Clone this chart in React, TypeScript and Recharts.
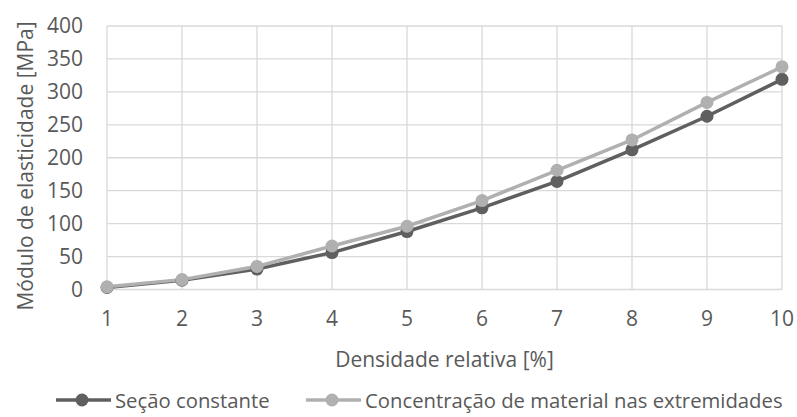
import { LineChart, Line, XAxis, YAxis, CartesianGrid, Legend } from "recharts";

const densidade = [1, 2, 3, 4, 5, 6, 7, 8, 9, 10];
const secaoConstante = [3, 14, 31, 56, 88, 124, 164, 212, 263, 319];
const concentracao = [4, 15, 35, 66, 96, 135, 181, 227, 284, 338];
const yTicks = [0, 50, 100, 150, 200, 250, 300, 350, 400];

const FONT = "'Open Sans', sans-serif";
const TEXT = "#595959";
const DARK = "#5f5f5f";
const LIGHT = "#b0b0b0";

const data = densidade.map((d, i) => ({
  x: d,
  secao: secaoConstante[i],
  conc: concentracao[i],
}));

function LegendItem({ color, label, lineX }: { color: string; label: string; lineX: number }) {
  return (
    <div style={{ position: "absolute", left: lineX, top: 0, display: "flex", alignItems: "center", height: 24 }}>
      <svg width={56} height={24} style={{ display: "block" }}>
        <line x1={0} y1={12} x2={55} y2={12} stroke={color} strokeWidth={3.5} />
        <circle cx={26} cy={12} r={6.5} fill={color} />
      </svg>
      <span
        style={{
          marginLeft: 3,
          fontFamily: FONT,
          fontSize: 20.3,
          lineHeight: "24px",
          color: TEXT,
          whiteSpace: "nowrap",
        }}
      >
        {label}
      </span>
    </div>
  );
}

function renderLegend() {
  return (
    <div style={{ position: "relative", width: 797, height: 24 }}>
      <LegendItem color={DARK} label="Seção constante" lineX={56} />
      <LegendItem color={LIGHT} label="Concentração de material nas extremidades" lineX={306} />
    </div>
  );
}

function YTitle(props: any) {
  const vb = props.viewBox;
  const x = vb.x + 25;
  const y = 166;
  return (
    <text
      x={x}
      y={y}
      transform={`rotate(-90, ${x}, ${y})`}
      textAnchor="middle"
      dominantBaseline="central"
      fontFamily={FONT}
      fontSize={21}
      fill={TEXT}
    >
      Módulo de elasticidade [MPa]
    </text>
  );
}

export default function App() {
  return (
    <div style={{ position: "absolute", left: 0, top: 0, background: "#fff" }}>
      <LineChart
        width={797}
        height={417}
        data={data}
        margin={{ top: 26, right: 15, left: 0, bottom: 0 }}
      >
        <CartesianGrid stroke="#d9d9d9" strokeWidth={1.3} />
        <XAxis
          type="number"
          dataKey="x"
          domain={[1, 10]}
          ticks={densidade}
          axisLine={false}
          tickLine={false}
          tickSize={0}
          tickMargin={22}
          height={103.5}
          tick={{ fontFamily: FONT, fontSize: 21, fill: TEXT }}
          label={{
            value: "Densidade relativa [%]",
            position: "insideTop",
            offset: 63,
            fontFamily: FONT,
            fontSize: 21,
            fill: TEXT,
          }}
        />
        <YAxis
          width={107}
          domain={[0, 400]}
          ticks={yTicks}
          axisLine={false}
          tickLine={false}
          tickSize={0}
          tickMargin={24}
          tick={{ fontFamily: FONT, fontSize: 21, fill: TEXT }}
          label={{ content: YTitle }}
        />
        <Legend
          verticalAlign="bottom"
          content={renderLegend}
          wrapperStyle={{ left: 0, top: 388, width: 797, height: 24 }}
        />
        <Line
          dataKey="secao"
          name="Seção constante"
          stroke={DARK}
          strokeWidth={3.5}
          dot={{ r: 6.5, fill: DARK, stroke: DARK, strokeWidth: 0 }}
          isAnimationActive={false}
        />
        <Line
          dataKey="conc"
          name="Concentração de material nas extremidades"
          stroke={LIGHT}
          strokeWidth={3.5}
          dot={{ r: 6.5, fill: LIGHT, stroke: LIGHT, strokeWidth: 0 }}
          isAnimationActive={false}
        />
      </LineChart>
    </div>
  );
}
